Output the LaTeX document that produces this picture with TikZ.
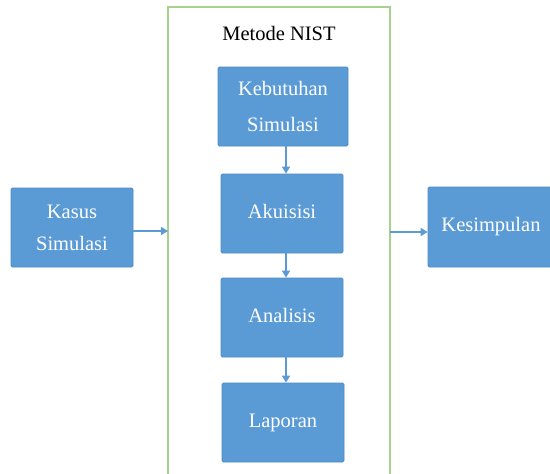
\documentclass[tikz,border=0pt]{standalone}
\usepackage{fontspec}
\setmainfont{Liberation Serif}
\usetikzlibrary{arrows.meta}
\definecolor{boxblue}{HTML}{5B9BD5}
\definecolor{boxedge}{HTML}{4A8AC9}
\definecolor{framegreen}{HTML}{A9D18E}
\begin{document}
\begin{tikzpicture}[x=1pt,y=-1pt,
  blockbox/.style={draw=boxedge,fill=boxblue,line width=0.8pt,rounded corners=1.5pt,
    text=white,font=\fontsize{20.5}{25}\selectfont,align=center,inner sep=0pt},
  conn/.style={draw=boxblue,line width=1.6pt,-{Triangle[length=7pt,width=8pt]}}]
\useasboundingbox (0,0) rectangle (550,474);
\fill[white] (0,0) rectangle (550,474);
\draw[framegreen,line width=1.5pt] (168,480) -- (168,7) -- (390,7) -- (390,480);
\node (title) at (279,33) {\fontsize{20.5}{25}\selectfont Metode NIST};
\node[blockbox,minimum width=130pt,minimum height=79pt] (keb) at (283,106.5) {Kebutuhan\\[11pt]Simulasi};
\node[blockbox,minimum width=122pt,minimum height=79pt] (aku) at (282,213.5) {\raisebox{4pt}{Akuisisi}};
\node[blockbox,minimum width=122pt,minimum height=79pt] (ana) at (282,317.5) {\raisebox{4pt}{Analisis}};
\node[blockbox,minimum width=122pt,minimum height=79pt] (lap) at (283,422.5) {\raisebox{4pt}{Laporan}};
\node[blockbox,minimum width=122pt,minimum height=79pt] (kas) at (72,227.5) {Kasus\\[7pt]Simulasi};
\node[blockbox,minimum width=126pt,minimum height=80pt] (kes) at (491,227) {\raisebox{3pt}{Kesimpulan}};
\coordinate (fl) at (168,231);
\coordinate (fr) at (390,232);
\draw[conn] (keb.south -| 286,0) -- (aku.north -| 286,0);
\draw[conn] (aku.south -| 286,0) -- (ana.north -| 286,0);
\draw[conn] (ana.south -| 286,0) -- (lap.north -| 286,0);
\draw[conn] (kas.east |- fl) -- (fl);
\draw[conn] (fr) -- (kes.west |- fr);
\end{tikzpicture}
\end{document}
